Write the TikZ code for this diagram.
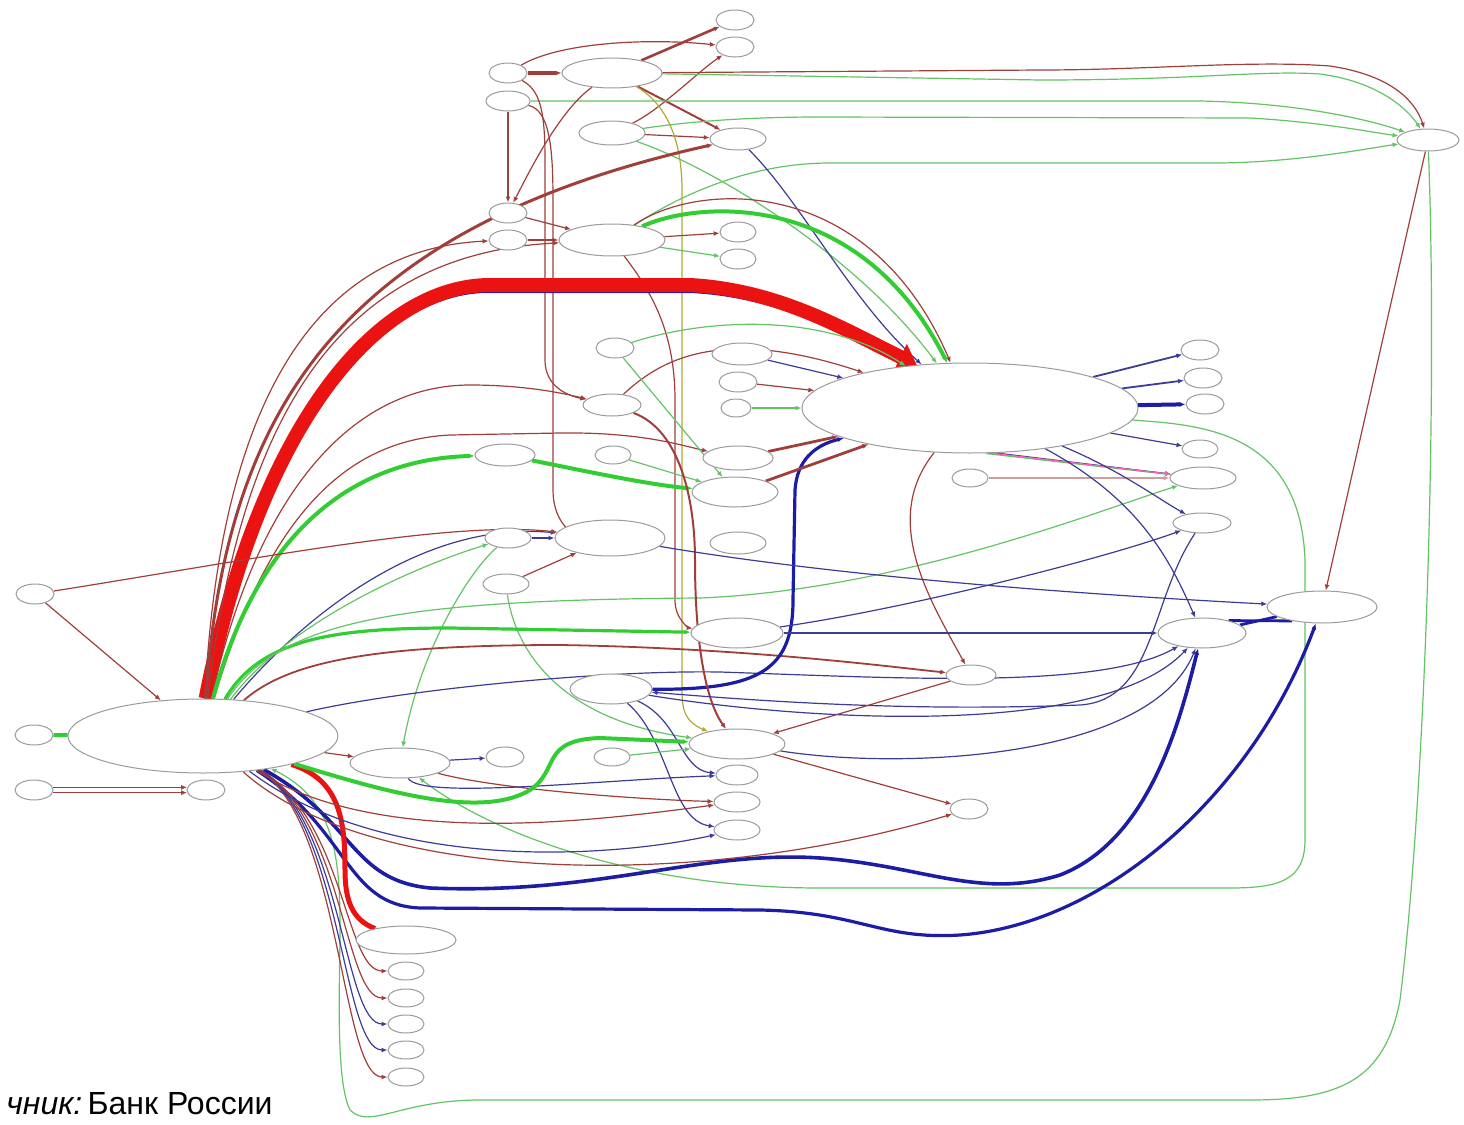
\documentclass[tikz,border=0pt]{standalone}
\usepackage{fontspec}
\usepackage{xcolor}
\usepackage{tikz}
\usetikzlibrary{arrows.meta,shapes.geometric,backgrounds}
\newfontfamily\srcfont{Liberation Sans}
\definecolor{edred}{RGB}{160,62,58}
\definecolor{edgreen}{RGB}{100,195,100}
\definecolor{edblue}{RGB}{60,60,150}
\definecolor{hotred}{RGB}{235,18,18}
\definecolor{hotgreen}{RGB}{50,205,50}
\definecolor{deepblue}{RGB}{28,28,165}
\definecolor{nodeline}{RGB}{155,155,155}
\tikzset{
  nd/.style 2 args={ellipse,draw=nodeline,line width=0.5pt,fill=white,
    inner sep=0pt,minimum width=#1,minimum height=#2},
  sm/.style={nd={19pt}{10pt}},
  tip/.style={-{Latex[length=3pt,width=2.5pt]}},
  er/.style={draw=edred,line width=0.6pt,tip},
  eg/.style={draw=edgreen,line width=0.6pt,tip},
  eb/.style={draw=edblue,line width=0.6pt,tip}
}
\begin{document}
\begin{tikzpicture}[x=0.5pt,y=-0.5pt]
  \useasboundingbox (0,0) rectangle (1464,1125);
  % top group
  \node[sm] (a1) at (735,20) {};
  \node[sm] (a2) at (735,47) {};
  \node[sm] (a3) at (508,73) {};
  \node[nd={50pt}{15pt}] (a4) at (612,73) {};
  \node[nd={22pt}{10pt}] (a5) at (508,101) {};
  \node[nd={33pt}{12pt}] (a6) at (612,133) {};
  \node[nd={28pt}{11pt}] (a7) at (738,139) {};
  \node[nd={31pt}{11pt}] (far) at (1428,140) {};
  \node[sm] (b1) at (508,213) {};
  \node[sm] (b2) at (508,240) {};
  \node[nd={53pt}{16pt}] (b3) at (612,240) {};
  \node[nd={18pt}{10pt}] (b4) at (738,232) {};
  \node[nd={18pt}{10pt}] (b5) at (738,259) {};
  % middle
  \node[sm] (c1) at (615,348) {};
  \node[nd={30pt}{11pt}] (c2) at (742,354) {};
  \node[sm] (c3) at (738,382) {};
  \node[nd={15pt}{9pt}] (c4) at (736,408) {};
  \node[nd={29pt}{11pt}] (c5) at (612,405) {};
  \node[nd={168pt}{45pt}] (big) at (970,408) {};
  \node[sm] (r1) at (1200,350) {};
  \node[sm] (r2) at (1203,378) {};
  \node[sm] (r3) at (1205,404) {};
  \node[nd={18pt}{9pt}] (r4) at (1200,449) {};
  \node[nd={18pt}{9pt}] (d1) at (970,478) {};
  \node[nd={33pt}{11pt}] (r5) at (1203,478) {};
  \node[nd={30pt}{11pt}] (e1) at (505,455) {};
  \node[nd={18pt}{9pt}] (e2) at (613,455) {};
  \node[nd={35pt}{12pt}] (e3) at (738,458) {};
  \node[nd={43pt}{15pt}] (e4) at (735,492) {};
  \node[nd={23pt}{10pt}] (f1) at (508,538) {};
  \node[nd={55pt}{18pt}] (f2) at (610,538) {};
  \node[nd={28pt}{11pt}] (f3) at (738,543) {};
  \node[nd={23pt}{10pt}] (f4) at (506,584) {};
  \node[nd={29pt}{10pt}] (r6) at (1202,523) {};
  \node[sm] (lft) at (35,594) {};
  \node[nd={55pt}{16pt}] (r8) at (1322,607) {};
  \node[nd={44pt}{15pt}] (r7) at (1202,633) {};
  \node[nd={46pt}{15pt}] (g1) at (737,633) {};
  \node[nd={25pt}{10pt}] (g2) at (971,675) {};
  \node[nd={41pt}{15pt}] (g3) at (611,689) {};
  % lower left
  \node[nd={135pt}{37pt}] (hub) at (203,736) {};
  \node[sm] (h1) at (34,735) {};
  \node[nd={50pt}{15pt}] (h2) at (400,763) {};
  \node[sm] (h3) at (505,757) {};
  \node[nd={18pt}{9pt}] (h4) at (612,757) {};
  \node[nd={48pt}{15pt}] (k1) at (737,744) {};
  \node[nd={21pt}{10pt}] (k2) at (737,775) {};
  \node[nd={23pt}{10pt}] (k3) at (737,802) {};
  \node[nd={23pt}{10pt}] (k4) at (737,830) {};
  \node[sm] (g4) at (969,809) {};
  \node[sm] (h5) at (34,790) {};
  \node[sm] (h6) at (206,790) {};
  \node[nd={50pt}{14pt}] (p0) at (406,940) {};
  \node[nd={18pt}{9pt}] (p1) at (406,971) {};
  \node[nd={18pt}{9pt}] (p2) at (406,998) {};
  \node[nd={18pt}{9pt}] (p3) at (406,1024) {};
  \node[nd={18pt}{9pt}] (p4) at (406,1050) {};
  \node[nd={18pt}{9pt}] (p5) at (406,1077) {};
  \node[anchor=base west,inner sep=0pt,font=\srcfont\fontsize{16pt}{18pt}\selectfont]
    (src) at (6,1114) {\textit{чник:}\,Банк России};

  \begin{scope}[on background layer]
    % top group
    \draw[er,line width=1.3pt] (a4) -- (a1);
    \draw[er,line width=1.6pt] (a3) -- (a4);
    \draw[er] (a3) .. controls (560,42) and (650,38) .. (a2);
    \draw[er] (a6) .. controls (660,110) and (700,70) .. (a2);
    \draw[er,line width=1pt] (a4) -- (a7);
    \draw[er] (a6) -- (a7);
    \draw[er] (a4) -- (1040,70) .. controls (1150,70) and (1250,60) .. (1330,66)
      .. controls (1390,75) and (1415,100) .. (far);
    \draw[eg] (a4) -- (1040,80) .. controls (1200,80) and (1260,70) .. (1320,74)
      .. controls (1380,82) and (1408,110) .. (far);
    \draw[eg] (a5) -- (1200,101) .. controls (1300,103) and (1370,120) .. (far);
    \draw[eg] (a6) .. controls (700,120) and (760,117) .. (820,117) -- (1250,118)
      .. controls (1320,122) and (1370,132) .. (far);
    \draw[eg] (b3) .. controls (680,195) and (750,163) .. (830,163) -- (1220,163)
      .. controls (1300,162) and (1370,148) .. (far);
    \draw[er] (a3) .. controls (540,90) and (545,110) .. (545,160) -- (545,360)
      .. controls (545,385) and (565,395) .. (c5);
    \draw[er] (a5) .. controls (550,110) and (553,150) .. (553,200) -- (553,490)
      .. controls (553,520) and (570,530) .. (f2);
    \draw[er] (a4) .. controls (560,110) and (530,170) .. (b1);
    \draw[er] (a5) -- (b1);
    \draw[eg,draw=olive!70] (a4) .. controls (660,100) and (682,130) .. (682,190) -- (682,690)
      .. controls (682,712) and (686,722) .. (k1);
    \draw[er] (b3) .. controls (650,290) and (675,330) .. (675,400) -- (675,600)
      .. controls (675,620) and (690,628) .. (g1);
    % links into the big node
    \draw[eg] (a6) .. controls (720,170) and (860,260) .. (big);
    \draw[eb] (a7) .. controls (800,200) and (850,300) .. (big);
    \draw[er] (b3) .. controls (700,180) and (870,175) .. (big);
    \draw[draw=hotgreen,line width=2pt,tip] (b3) .. controls (700,200) and (860,190) .. (big);
    \draw[er] (b3) -- (b4);
    \draw[eg] (b3) -- (b5);
    \draw[er] (b1) -- (b3);
    \draw[er] (b2) -- (b3);
    % hub upwards
    \draw[draw=deepblue,line width=1pt] (hub.88) .. controls (262,430) and (380,290) .. (490,292)
      -- (690,292) .. controls (780,296) and (845,335) .. (big.142);
    \draw[draw=hotred,line width=7pt,-{Triangle[length=9pt,width=14pt]}] (hub.86)
      .. controls (260,420) and (380,285) .. (490,285) -- (690,285)
      .. controls (780,290) and (845,330) .. (big.141);
    \draw[er,line width=1.5pt] (hub) .. controls (225,420) and (330,230) .. (a7);
    \draw[er] (hub) .. controls (218,430) and (300,250) .. (b2);
    \draw[er] (hub) .. controls (240,430) and (330,255) .. (b3);
    \draw[er] (hub) .. controls (260,480) and (360,385) .. (470,385)
      .. controls (530,385) and (570,395) .. (c5);
    \draw[er] (hub) .. controls (270,510) and (350,440) .. (450,435) -- (560,433)
      .. controls (640,432) and (680,445) .. (e3);
    \draw[draw=hotgreen,line width=2pt,tip] (hub) .. controls (250,560) and (330,460) .. (e1);
    \draw[draw=hotgreen,line width=2pt,tip] (e1) .. controls (580,470) and (650,485) .. (e4);
    \draw[eg] (e2) -- (e4);
    \draw[eb] (hub) .. controls (300,620) and (420,520) .. (f2);
    \draw[er] (lft) .. controls (250,560) and (450,520) .. (f2);
    \draw[er] (lft) -- (hub);
    \draw[eg] (hub) .. controls (290,620) and (420,565) .. (f1);
    \draw[eb] (f1) -- (f2);
    \draw[er] (f4) -- (f2);
    \draw[eg] (f1) .. controls (470,570) and (420,650) .. (h2);
    \draw[eg] (f4) .. controls (515,650) and (560,720) .. (k1);
    \draw[draw=hotgreen,line width=1.6pt,tip] (hub) .. controls (260,640) and (330,628) .. (450,628) -- (g1);
    \draw[eg] (hub) .. controls (280,620) and (400,600) .. (700,598)
      .. controls (900,590) and (1100,510) .. (r5);
    \draw[er,line width=0.9pt] (hub) .. controls (290,660) and (380,645) .. (560,645)
      .. controls (750,648) and (900,668) .. (g2);
    \draw[eb] (hub) .. controls (400,690) and (600,670) .. (720,672)
      .. controls (900,678) and (1100,690) .. (r7);
    \draw[eb] (g3) .. controls (800,720) and (1100,740) .. (r7);
    \draw[draw=deepblue,line width=1.6pt,tip] (g3) .. controls (760,690) and (793,670) .. (793,600)
      -- (795,490) .. controls (797,460) and (815,445) .. (big);
    % middle column
    \draw[er,line width=1pt] (c5) .. controls (680,430) and (695,500) .. (695,560)
      .. controls (695,640) and (705,700) .. (k1);
    \draw[er] (c5) .. controls (660,360) and (720,325) .. (big);
    \draw[eg] (c1) .. controls (700,320) and (820,310) .. (big);
    \draw[eg] (c1) -- (e4);
    \draw[eb] (c2) -- (big);
    \draw[er] (c3) -- (big);
    \draw[eg] (c4) -- (big);
    \draw[er,line width=1.4pt] (e3) -- (big);
    \draw[er,line width=1.4pt] (e4) -- (big);
    \draw[er] (big) .. controls (880,520) and (930,600) .. (g2);
    \draw[er,draw=edred!50] (d1) -- (r5);
    % right side
    \draw[eb,line width=0.9pt] (big) -- (r1);
    \draw[eb,line width=0.9pt] (big) -- (r2);
    \draw[draw=deepblue,line width=2pt,tip] (big) -- (r3);
    \draw[eb] (big) -- (r4);
    \draw[eg,line width=0.9pt] (big.290) -- (r5);
    \draw[eb] (big.300) -- (r5);
    \draw[er,draw=magenta!60] (big.295) -- (r5);
    \draw[eb] (big) .. controls (1120,470) and (1160,500) .. (r6);
    \draw[eb] (big) .. controls (1140,500) and (1170,560) .. (r7);
    \draw[draw=deepblue,line width=1.4pt] (r7.25) -- (r8.205);
    \draw[draw=deepblue,line width=1.4pt] (r7.12) -- (r8.192);
    \draw[eb] (f2) .. controls (800,570) and (1000,590) .. (r8);
    \draw[eb] (g1) -- (r7);
    \draw[eb] (g1) .. controls (900,610) and (1100,560) .. (r6);
    \draw[eb] (r6) .. controls (1150,600) and (1155,700) .. (1080,705)
      .. controls (900,712) and (750,700) .. (g3);
    \draw[eb] (k1) .. controls (900,770) and (1150,760) .. (r7);
    \draw[er] (far) -- (r8);
    \draw[eg] (far) .. controls (1438,400) and (1425,800) .. (1400,1000)
      .. controls (1385,1080) and (1340,1100) .. (1250,1100) -- (480,1100)
      .. controls (400,1100) and (370,1130) .. (350,1110)
      .. controls (335,1080) and (340,980) .. (340,930) .. controls (340,860) and (336,800) .. (hub);
    \draw[eg] (big) .. controls (1200,425) and (1300,430) .. (1305,560) -- (1305,840)
      .. controls (1305,880) and (1280,888) .. (1230,888) -- (820,888)
      .. controls (650,888) and (500,840) .. (h2);
    % bottom group
    \draw[draw=deepblue,line width=1.8pt,tip] (hub) .. controls (355,820) and (350,880) .. (430,888)
      .. controls (600,895) and (700,850) .. (820,858)
      .. controls (920,865) and (980,900) .. (1060,875)
      .. controls (1150,840) and (1180,720) .. (r7);
    \draw[draw=deepblue,line width=1.6pt,tip] (hub) .. controls (350,830) and (345,905) .. (420,908)
      -- (760,910) .. controls (860,912) and (880,940) .. (960,935)
      .. controls (1100,925) and (1250,800) .. (r8);
    \draw[draw=hotred,line width=2.5pt] (hub) .. controls (340,780) and (345,820) .. (345,870)
      .. controls (345,900) and (352,920) .. (p0);
    \draw[er] (hub) .. controls (345,820) and (345,971) .. (p1);
    \draw[er] (hub) .. controls (344,820) and (344,998) .. (p2);
    \draw[eb] (hub) .. controls (343,820) and (343,1024) .. (p3);
    \draw[eb] (hub) .. controls (342,820) and (342,1050) .. (p4);
    \draw[er] (hub) .. controls (341,820) and (341,1077) .. (p5);
    \draw[er] (hub) .. controls (380,850) and (600,820) .. (k3);
    \draw[er] (h2) .. controls (500,790) and (650,800) .. (k3);
    \draw[eb] (hub) .. controls (380,870) and (600,860) .. (k4);
    \draw[er] (hub) .. controls (370,885) and (700,890) .. (g4);
    \draw[er] (k1) -- (g4);
    \draw[er] (g2) -- (k1);
    \draw[eb] (h2) .. controls (420,800) and (600,780) .. (k2);
    \draw[eb] (g3) .. controls (680,720) and (680,770) .. (k2);
    \draw[eb] (g3) .. controls (670,740) and (670,820) .. (k4);
    \draw[eg] (h4) -- (k1);
    \draw[draw=hotgreen,line width=2pt,tip] (hub) .. controls (380,790) and (480,820) .. (530,790)
      .. controls (560,770) and (540,740) .. (600,738) -- (k1);
    \draw[eb] (h2) -- (h3);
    \draw[er] (hub) -- (h2);
    \draw[draw=hotgreen,line width=2pt] (h1) -- (hub);
    \draw[er,line width=0.8pt] (h5.8) -- (h6.172);
    \draw[er,line width=0.8pt] (h5.-8) -- (h6.-172);
  \end{scope}
\end{tikzpicture}
\end{document}
